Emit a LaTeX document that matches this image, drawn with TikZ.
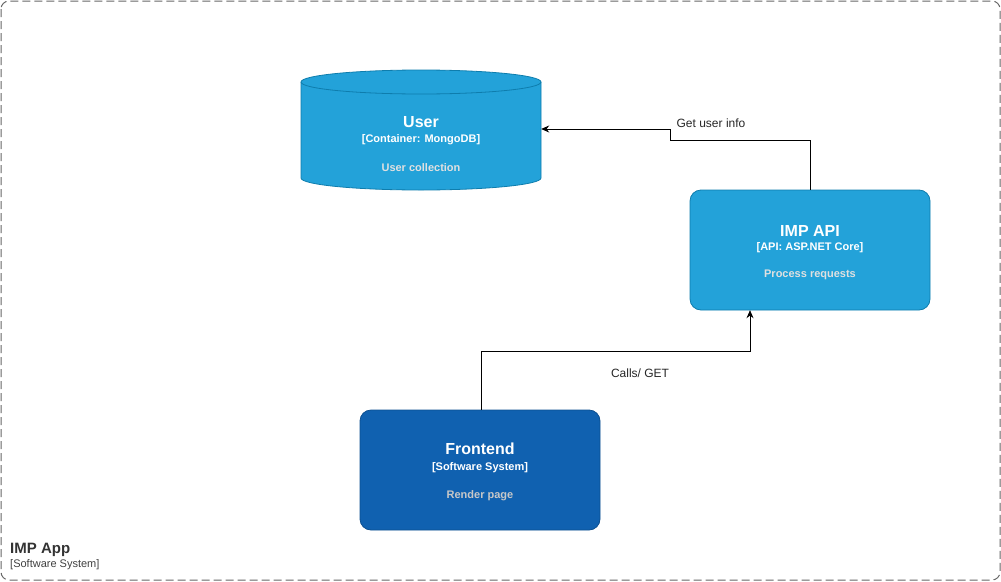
\documentclass[tikz,border=0pt]{standalone}
\usepackage{fontspec}
\setmainfont{Liberation Sans}
\usetikzlibrary{arrows.meta,shapes.geometric}
\definecolor{contfill}{HTML}{23A2D9}
\definecolor{contline}{HTML}{0E7DAD}
\definecolor{sysfill}{HTML}{1061B0}
\definecolor{sysline}{HTML}{0D5091}
\definecolor{boundary}{HTML}{666666}
\definecolor{desc}{HTML}{E0E0E0}
\definecolor{sysdesc}{HTML}{C8C8C8}
\tikzset{
  boxshape/.style={draw=contline, fill=contfill, rounded corners=11pt, line width=0.8pt},
  sysshape/.style={draw=sysline, fill=sysfill, rounded corners=11pt, line width=0.8pt},
  titletext/.style={font=\bfseries\fontsize{16}{18}\selectfont, text=white},
  typetext/.style={font=\bfseries\fontsize{11}{13}\selectfont, text=white},
  desctext/.style={font=\bfseries\fontsize{11}{13}\selectfont, text=desc},
  conn/.style={draw=black, line width=0.8pt, -{Stealth[length=8pt,width=7pt]}},
  lbl/.style={font=\fontsize{12}{14}\selectfont, text=black!85, inner sep=1pt}
}
\begin{document}
\begin{tikzpicture}[x=1pt,y=-1pt]
\useasboundingbox (0,0) rectangle (1001,581);
% boundary
\draw[boundary, dash pattern=on 8pt off 4pt, line width=1pt, rounded corners=8pt] (1,1) rectangle (1000,580);
\node[anchor=base west, font=\bfseries\fontsize{15}{17}\selectfont, text=black!80, inner sep=0pt] (bt) at (10,553) {IMP App};
\node[anchor=base west, font=\fontsize{11}{13}\selectfont, text=black!75, inner sep=0pt] (bs) at (10,567) {[Software System]};

% cylinder User
\draw[contline, fill=contfill, line width=0.8pt] (301,82) -- (301,178) arc[start angle=180,end angle=0,x radius=120,y radius=12] -- (541,82) arc[start angle=0,end angle=-180,x radius=120,y radius=12] -- cycle;
\draw[contline, line width=0.8pt] (301,82) arc[start angle=180,end angle=0,x radius=120,y radius=12];
\node[minimum width=240pt, minimum height=120pt, inner sep=0pt] (user) at (421,130) {};
\node[titletext, anchor=base] (ut) at (421,127) {User};
\node[typetext, anchor=base] (uy) at (421,142) {[Container: MongoDB]};
\node[desctext, anchor=base] (ud) at (421,171) {User collection};

% IMP API
\draw[boxshape] (690,190) rectangle (930,310);
\node[minimum width=240pt, minimum height=120pt, inner sep=0pt] (api) at (810,250) {};
\node[titletext, anchor=base] (at) at (810,236) {IMP API};
\node[typetext, anchor=base] (ay) at (810,250) {[API: ASP.NET Core]};
\node[desctext, anchor=base] (ad) at (810,277) {Process requests};

% Frontend
\draw[sysshape] (360,410) rectangle (600,530);
\node[minimum width=240pt, minimum height=120pt, inner sep=0pt] (fe) at (480,470) {};
\node[titletext, anchor=base] (ft) at (480,454) {Frontend};
\node[typetext, anchor=base] (fy) at (480,470) {[Software System]};
\node[font=\bfseries\fontsize{11}{13}\selectfont, text=sysdesc, anchor=base] (fd) at (480,498) {Render page};

% connectors
\coordinate (e1a) at (810,140);
\coordinate (e1b) at (670,140);
\coordinate (e1c) at (670,129);
\draw[conn] (api.north -| e1a) -- (e1a) -- (e1b) -- (e1c) -- (e1c -| user.east);
\node[lbl] (l1) at (711,123) {Get user info};

\coordinate (e2a) at (481,351);
\coordinate (e2b) at (750,351);
\draw[conn] (fe.north -| e2a) -- (e2a) -- (e2b) -- (e2b |- api.south);
\node[lbl] (l2) at (640,373) {Calls/ GET};
\end{tikzpicture}
\end{document}
